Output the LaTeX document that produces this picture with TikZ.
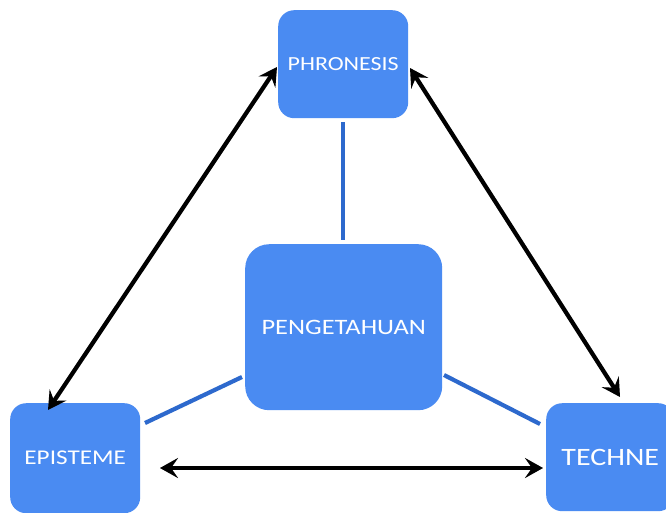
\documentclass[tikz,border=0pt]{standalone}
\usepackage{fontspec}
\setmainfont{Carlito}[FakeStretch=1.2]
\usetikzlibrary{arrows.meta}
\definecolor{boxblue}{RGB}{74,139,242}
\definecolor{lineblue}{RGB}{45,105,205}
\tikzset{
  box/.style={rectangle, rounded corners=#1, fill=boxblue, text=white, inner sep=0pt, anchor=north west},
  lbl/.style={text=white, font=\fontsize{#1}{#1}\selectfont},
  link/.style={draw=lineblue, line width=4.2pt},
  tips/.style={{Stealth[length=18pt,width=20pt,inset=7pt]}-{Stealth[length=18pt,width=20pt,inset=7pt]}},
  dbl/.style={draw=black, line width=4.2pt, tips},
  shadowline/.style={draw=black!40, line width=4.2pt, tips},
}
\begin{document}
\begin{tikzpicture}[x=1pt,y=-1pt]
\clip (0,0) rectangle (666,512);
\fill[white] (0,0) rectangle (666,512);
% boxes
\node[box=16pt, minimum width=130pt, minimum height=108pt] (phr) at (278,10) {};
\node[lbl=20] (tphr) at (phr.center) {PHRONESIS};
\node[box=24pt, minimum width=197pt, minimum height=166pt] (pen) at (245,244) {};
\node[lbl=22] (tpen) at (pen.center) {PENGETAHUAN};
\node[box=16pt, minimum width=130pt, minimum height=110pt] (epi) at (10,403) {};
\node[lbl=21] (tepi) at (epi.center) {EPISTEME};
\node[box=16pt, minimum width=128pt, minimum height=108pt] (tec) at (546,403) {};
\node[lbl=25] (ttec) at (tec.center) {TECHNE};
% blue connectors
\coordinate (v1) at (343,122);
\coordinate (v2) at (343,240);
\coordinate (l1) at (145,423);
\coordinate (l2) at (242,377);
\coordinate (r1) at (444,375);
\coordinate (r2) at (540,424);
\draw[link] (v1) -- (v2);
\draw[link] (l1) -- (l2);
\draw[link] (r1) -- (r2);
% black double arrows
\coordinate (a1) at (277,67);
\coordinate (a2) at (48,410);
\coordinate (b1) at (410,68);
\coordinate (b2) at (620,397);
\coordinate (c1) at (160,468);
\coordinate (c2) at (543,468);
\begin{scope}[shift={(1.5,2)}, opacity=0.45]
\draw[shadowline] (a1) -- (a2);
\draw[shadowline] (b1) -- (b2);
\draw[shadowline] (c1) -- (c2);
\end{scope}
\draw[dbl] (a1) -- (a2);
\draw[dbl] (b1) -- (b2);
\draw[dbl] (c1) -- (c2);
\end{tikzpicture}
\end{document}
